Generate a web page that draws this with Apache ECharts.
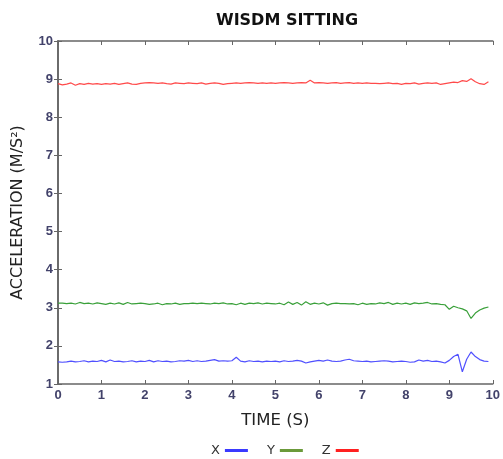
<!DOCTYPE html>
<html><head><meta charset="utf-8">
<script src="https://cdn.jsdelivr.net/npm/echarts@6/dist/echarts.min.js"></script>
<style>html,body{margin:0;padding:0;background:#fff}#c{width:503px;height:459px}</style>
</head><body><div id="c"></div>
<script>
const title = 'WISDM SITTING';
const xName = 'TIME (S)';
const yName = 'ACCELERATION (M/S²)';
const seriesNames = ['X', 'Y', 'Z'];
const sampleStep = 0.1; // seconds between samples
const zValues = [
 8.88,8.85,8.87,8.90,8.84,8.88,8.86,8.89,8.87,8.88,
 8.86,8.88,8.87,8.89,8.86,8.88,8.90,8.87,8.86,8.89,
 8.90,8.91,8.90,8.89,8.90,8.88,8.87,8.90,8.89,8.88,
 8.90,8.89,8.88,8.90,8.87,8.89,8.90,8.89,8.86,8.88,
 8.89,8.90,8.89,8.90,8.91,8.90,8.89,8.90,8.89,8.90,
 8.89,8.90,8.91,8.90,8.89,8.90,8.91,8.90,8.97,8.90,
 8.91,8.90,8.89,8.90,8.91,8.89,8.90,8.91,8.89,8.90,
 8.89,8.90,8.89,8.89,8.88,8.89,8.90,8.88,8.89,8.86,
 8.89,8.88,8.90,8.87,8.89,8.90,8.89,8.90,8.86,8.88,
 8.90,8.92,8.91,8.96,8.94,9.01,8.93,8.88,8.86,8.93
];
const yValues = [
 3.12,3.12,3.11,3.12,3.10,3.14,3.11,3.12,3.10,3.13,
 3.11,3.09,3.12,3.10,3.13,3.09,3.14,3.10,3.11,3.12,
 3.11,3.09,3.10,3.12,3.08,3.11,3.10,3.12,3.09,3.11,
 3.11,3.12,3.11,3.12,3.11,3.10,3.12,3.11,3.13,3.10,
 3.11,3.08,3.12,3.09,3.12,3.11,3.13,3.10,3.12,3.11,
 3.10,3.12,3.08,3.15,3.09,3.14,3.07,3.16,3.09,3.12,
 3.10,3.13,3.07,3.11,3.12,3.11,3.11,3.10,3.11,3.08,
 3.12,3.09,3.11,3.10,3.13,3.11,3.14,3.09,3.12,3.10,
 3.12,3.09,3.13,3.11,3.12,3.14,3.10,3.11,3.09,3.08,
 2.96,3.04,3.00,2.97,2.92,2.72,2.86,2.94,2.99,3.02
];
const xValues = [
 1.58,1.57,1.58,1.60,1.58,1.59,1.61,1.58,1.60,1.59,
 1.62,1.58,1.63,1.59,1.60,1.58,1.59,1.61,1.58,1.60,
 1.59,1.62,1.58,1.61,1.59,1.60,1.58,1.59,1.61,1.60,
 1.62,1.59,1.61,1.59,1.60,1.62,1.64,1.60,1.61,1.60,
 1.61,1.70,1.60,1.58,1.61,1.59,1.60,1.58,1.60,1.59,
 1.60,1.58,1.61,1.59,1.60,1.62,1.60,1.55,1.58,1.60,
 1.62,1.60,1.63,1.60,1.59,1.60,1.63,1.65,1.61,1.60,
 1.59,1.60,1.58,1.59,1.60,1.61,1.60,1.58,1.59,1.60,
 1.59,1.57,1.58,1.63,1.60,1.62,1.59,1.60,1.58,1.55,
 1.62,1.72,1.78,1.32,1.65,1.84,1.72,1.64,1.60,1.59
];
const xTicks = [0,1,2,3,4,5,6,7,8,9,10];
const yTicks = [1,2,3,4,5,6,7,8,9,10];

function pairs(vals){ return vals.map((v,i)=>[+(i*sampleStep).toFixed(2), v]); }

const axisColor = '#666';
const labelColor = '#42426a';
const tickLabel = {fontFamily:'Liberation Sans',fontWeight:'bold',fontSize:13,color:labelColor};
const chart = echarts.init(document.getElementById('c'));
chart.setOption({
  animation:false,
  backgroundColor:'#fff',
  title:{text:title,left:282,textAlign:'center',top:8,
    textStyle:{fontFamily:'DejaVu Sans',fontWeight:'bold',fontSize:16,color:'#111'}},
  grid:{left:58,right:9,top:41,bottom:75},
  legend:{top:439,left:206,align:'right',itemGap:19,itemWidth:23,itemHeight:3,icon:'rect',
    textStyle:{fontFamily:'DejaVu Sans',fontSize:13,color:'#333'},
    data:seriesNames},
  xAxis:[{type:'value',min:xTicks[0],max:xTicks[xTicks.length-1],interval:1,
    name:xName,nameLocation:'middle',nameGap:28,
    nameTextStyle:{fontFamily:'DejaVu Sans',fontSize:16.5,color:'#222'},
    axisLine:{show:true,lineStyle:{color:axisColor,width:1.6}},
    axisTick:{inside:true,length:4,lineStyle:{color:axisColor}},
    axisLabel:Object.assign({margin:5},tickLabel),
    splitLine:{show:false}},
   {type:'value',position:'top',min:xTicks[0],max:xTicks[xTicks.length-1],interval:1,
    axisLine:{show:true,lineStyle:{color:axisColor,width:1.6}},
    axisTick:{inside:true,length:4,lineStyle:{color:axisColor}},
    axisLabel:{show:false},splitLine:{show:false}}],
  yAxis:[{type:'value',min:yTicks[0],max:yTicks[yTicks.length-1],interval:1,
    name:yName,nameLocation:'middle',nameGap:32,
    nameTextStyle:{fontFamily:'DejaVu Sans',fontSize:16,color:'#222'},
    axisLine:{show:true,lineStyle:{color:axisColor,width:1.6}},
    axisTick:{show:true,inside:true,length:4,lineStyle:{color:axisColor}},
    axisLabel:Object.assign({margin:5},tickLabel),
    splitLine:{show:false}},
   {type:'value',position:'right',min:yTicks[0],max:yTicks[yTicks.length-1],interval:1,
    axisLine:{show:true,lineStyle:{color:axisColor,width:1.6}},
    axisTick:{show:true,inside:true,length:4,lineStyle:{color:axisColor}},
    axisLabel:{show:false},splitLine:{show:false}}],
  series:[
    {name:'X',type:'line',data:pairs(xValues),showSymbol:false,color:'#3a3aff',
      lineStyle:{width:1.2,color:'#5050ff'}},
    {name:'Y',type:'line',data:pairs(yValues),showSymbol:false,color:'#6b9a3a',
      lineStyle:{width:1.2,color:'#3aa03a'}},
    {name:'Z',type:'line',data:pairs(zValues),showSymbol:false,color:'#ff2020',
      lineStyle:{width:1.2,color:'#ff4a4a'}}
  ]
});
</script></body></html>
